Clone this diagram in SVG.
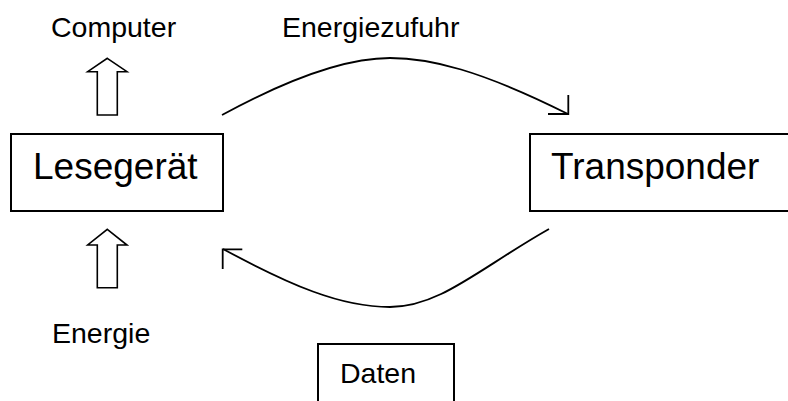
<svg xmlns="http://www.w3.org/2000/svg" width="788" height="401" viewBox="0 0 788 401">
<style>
.box{fill:#fff;stroke:#000;stroke-width:2}
.big{font-family:"Liberation Sans",Arial,sans-serif;font-size:37px;fill:#000}
.small{font-family:"Liberation Sans",Arial,sans-serif;font-size:28.5px;fill:#000}
.blk{fill:#fff;stroke:#000;stroke-width:1.6;stroke-linejoin:miter}
.con{fill:none;stroke:#000;stroke-width:1.8}
</style>
<rect width="788" height="401" fill="#fff"/>
<g id="lesegeraet">
<rect class="box" x="11" y="134" width="212" height="77"/>
<text class="big" x="33" y="179">Lesegerät</text>
</g>
<g id="transponder">
<rect class="box" x="530" y="134" width="260" height="77"/>
<text class="big" x="551" y="179">Transponder</text>
</g>
<g id="daten">
<rect class="box" x="318" y="344" width="136" height="70"/>
<text class="small" x="340" y="383">Daten</text>
</g>
<g id="computer">
<text class="small" x="51" y="37">Computer</text>
<polygon class="blk" points="107.3,58.3 127,71.7 117.3,71.7 117.3,115 97.3,115 97.3,71.7 87.7,71.7"/>
</g>
<g id="energie">
<text class="small" x="52" y="343">Energie</text>
<polygon class="blk" points="107.3,229.3 127,245 117.3,245 117.3,287.7 97.3,287.7 97.3,245 87.7,245"/>
</g>
<g id="connectors">
<text class="small" x="282" y="37">Energiezufuhr</text>
<path class="con" d="M222,115 C290,78 345,58 390,58 C430,58 480,70 568,114"/>
<path class="con" d="M568.3,95 L568.3,114 L548,114"/>
<path class="con" d="M549,229 C480,268 440,307 390,307 C340,307 290,285 223,249"/>
<path class="con" d="M242.3,249.3 L222.7,249.3 L222.7,269"/>
</g>
</svg>
